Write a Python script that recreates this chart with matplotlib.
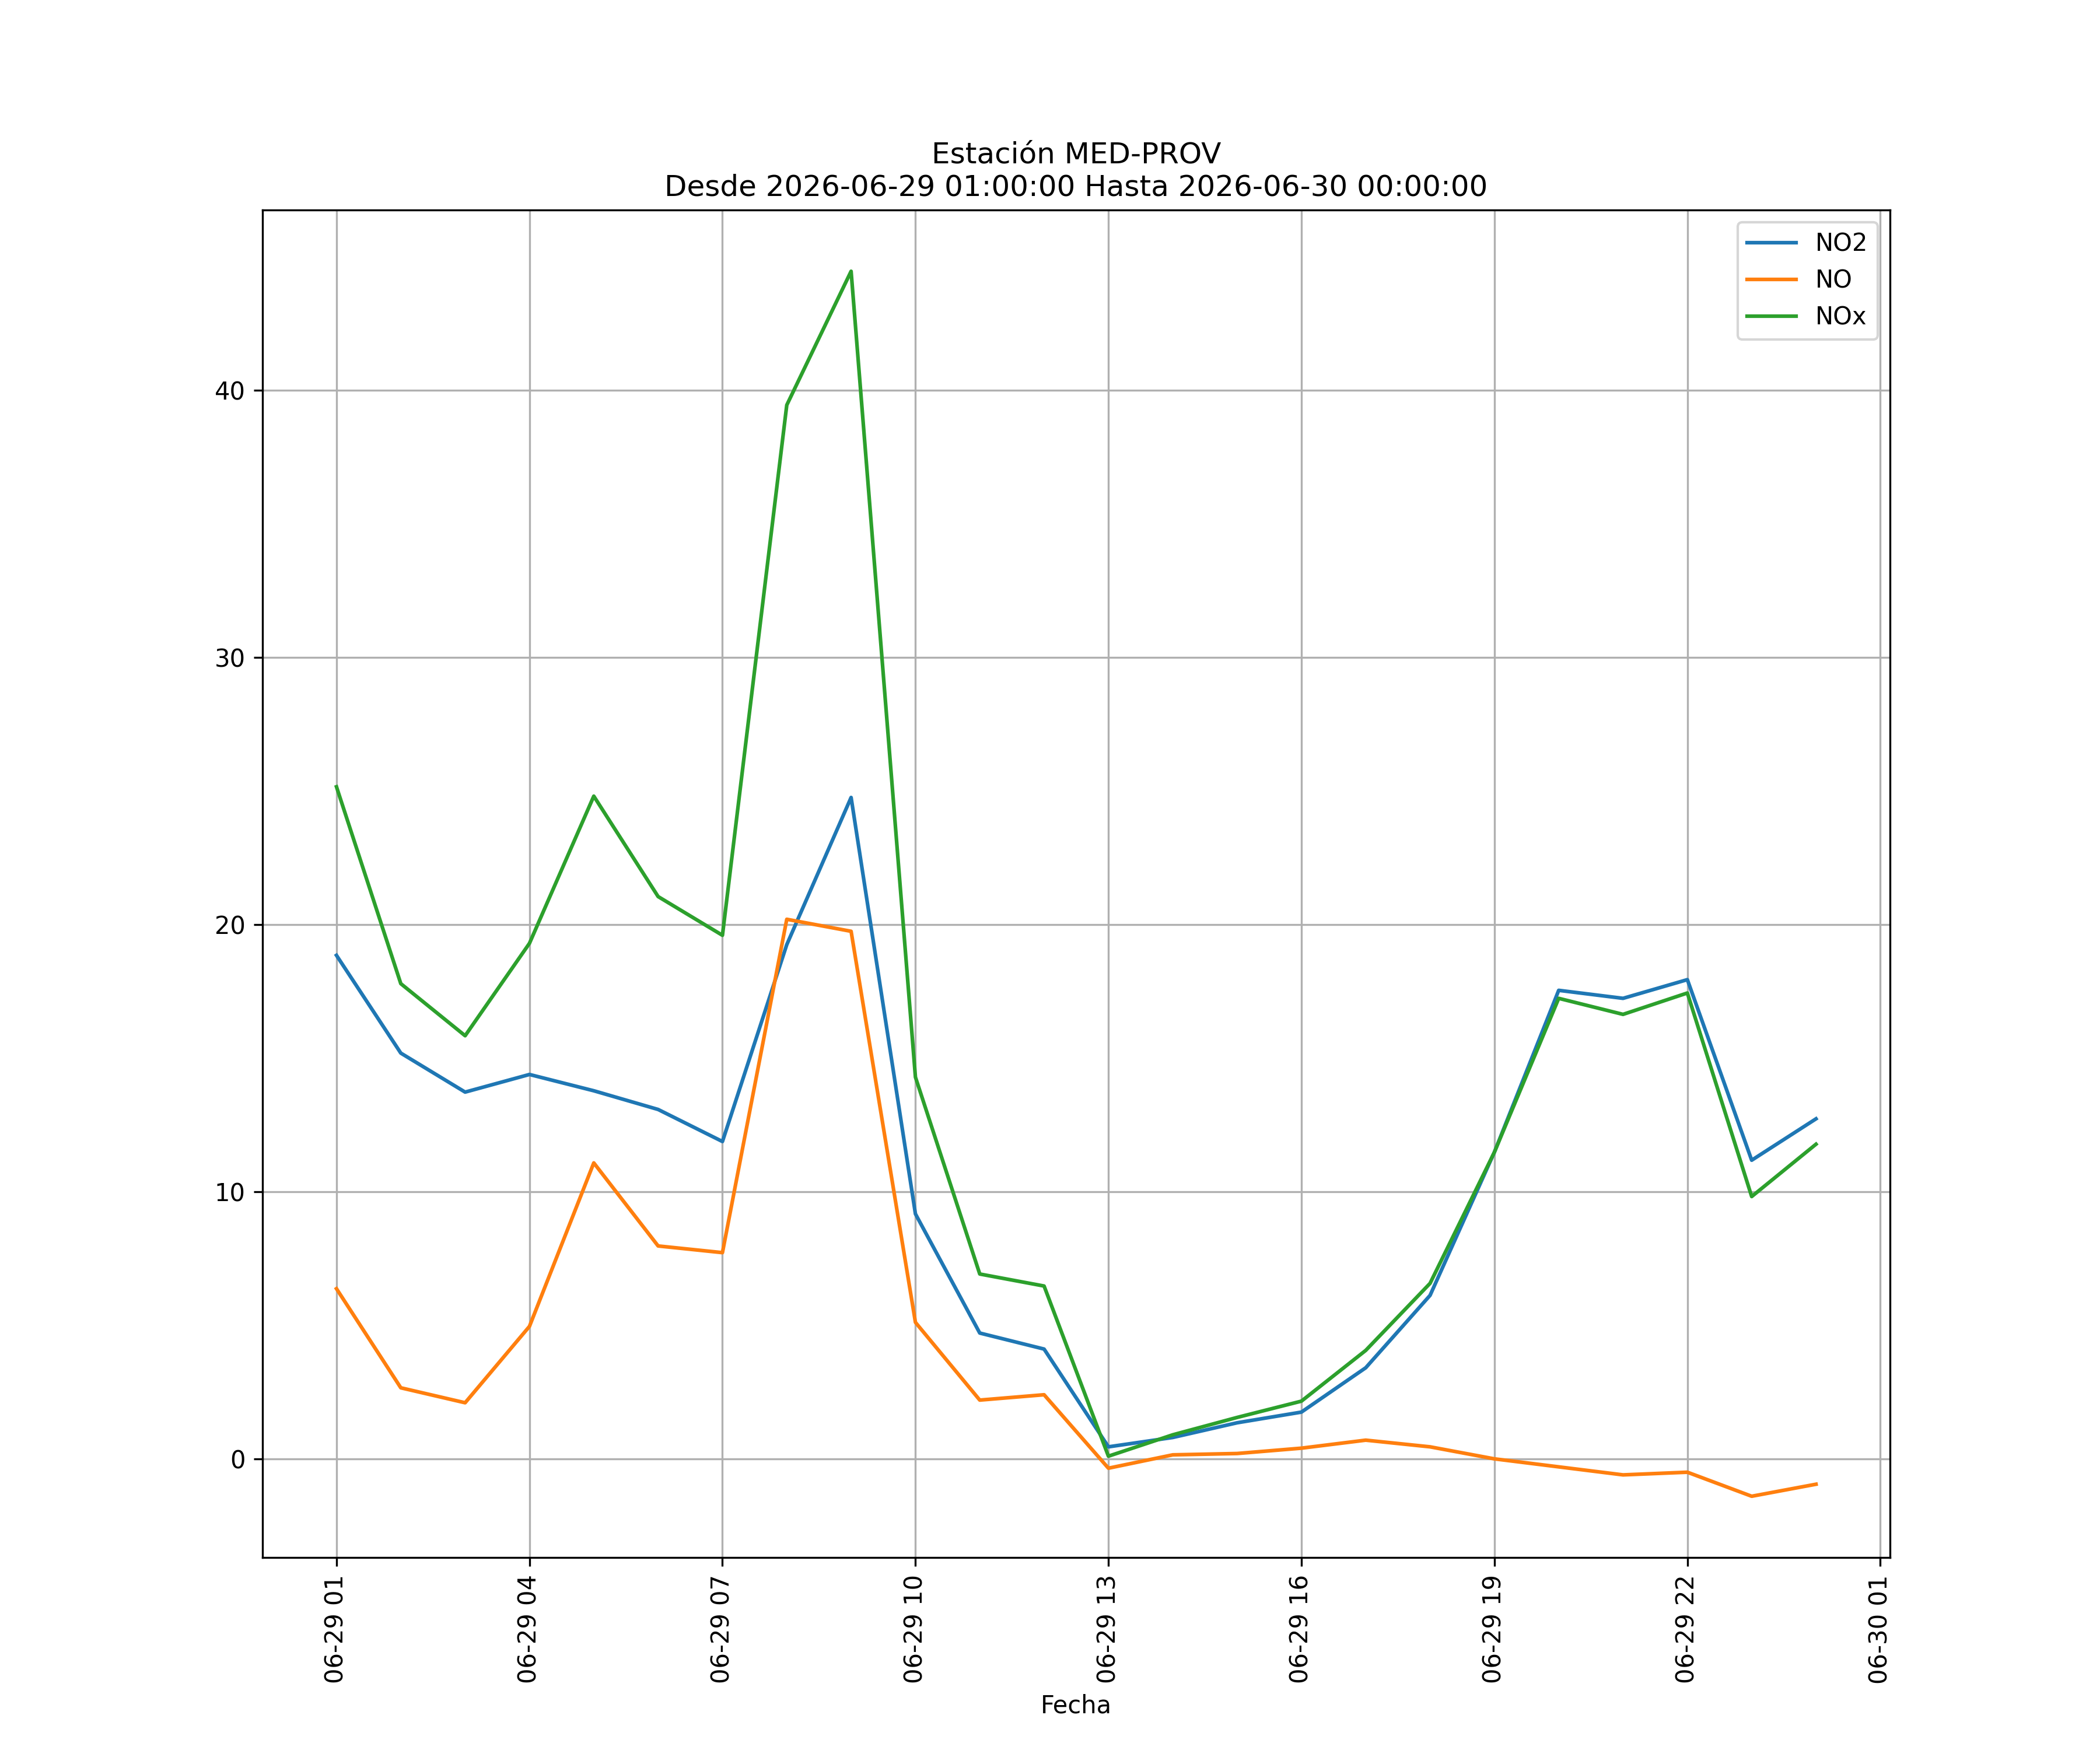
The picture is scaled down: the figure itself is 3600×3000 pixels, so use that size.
import pandas as pd
import matplotlib
matplotlib.use("Agg")
import matplotlib.pyplot as plt
import matplotlib.dates as mdates

# hourly readings, 2026-06-29 01:00 -> 2026-06-30 00:00
fechas = pd.date_range("2026-06-29 01:00:00", "2026-06-30 00:00:00", freq="h")

no2 = [18.85, 15.19, 13.73, 14.39, 13.78, 13.08, 11.88, 19.25, 24.76, 9.17,
       4.71, 4.11, 0.45, 0.8, 1.35, 1.75, 3.41, 6.12, 11.48, 17.54,
       17.24, 17.94, 11.18, 12.73]
no = [6.37, 2.66, 2.1, 4.96, 11.08, 7.97, 7.72, 20.2, 19.75, 5.11,
      2.2, 2.4, -0.35, 0.15, 0.2, 0.4, 0.7, 0.45, 0.0, -0.3,
      -0.6, -0.5, -1.4, -0.95]
nox = [25.16, 17.79, 15.84, 19.3, 24.81, 21.05, 19.6, 39.45, 44.46, 14.29,
       6.92, 6.47, 0.1, 0.9, 1.55, 2.16, 4.06, 6.57, 11.48, 17.24,
       16.64, 17.44, 9.82, 11.78]

df = pd.DataFrame({"NO2": no2, "NO": no, "NOx": nox}, index=fechas)

fig, ax = plt.subplots(figsize=(12, 10))
for col in df.columns:
    ax.plot(df.index, df[col], label=col)

ax.set_title("Estación MED-PROV\nDesde 2026-06-29 01:00:00 Hasta 2026-06-30 00:00:00")
ax.set_xlabel("Fecha")
ax.xaxis.set_major_locator(mdates.HourLocator(byhour=range(1, 24, 3)))
ax.xaxis.set_major_formatter(mdates.DateFormatter("%m-%d %H"))
plt.setp(ax.get_xticklabels(), rotation=90)
ax.grid(True)
ax.legend(loc="upper right")

fig.savefig("out.png", dpi=300)
